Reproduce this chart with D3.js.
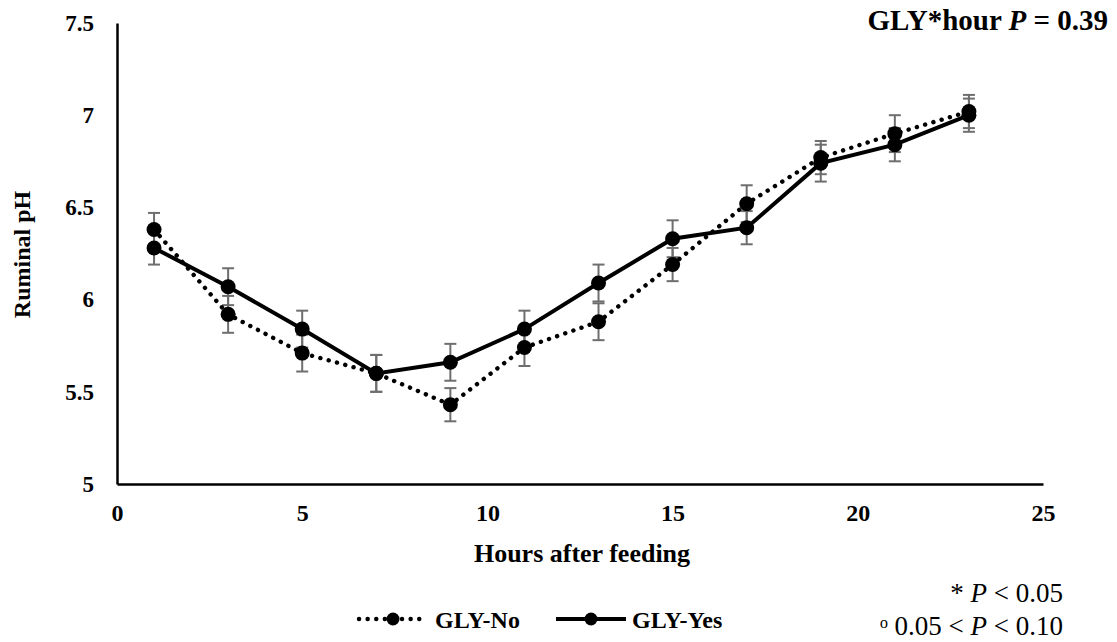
<!DOCTYPE html>
<html>
<head>
<meta charset="utf-8">
<script src="https://cdn.jsdelivr.net/npm/d3@7"></script>
<style>
  body { margin: 0; background: #fff; }
  text { font-family: "Liberation Serif", "Times New Roman", serif; }
</style>
</head>
<body>
<svg id="chart" width="1117" height="642"></svg>
<script>
'use strict';

// hours after feeding
const hours = [1, 3, 5, 7, 9, 11, 13, 15, 17, 19, 21, 23];
// ruminal pH, GLY-No (dotted) and GLY-Yes (solid)
const glyNo = [6.38, 5.92, 5.71, 5.60, 5.43, 5.74, 5.88, 6.19, 6.52, 6.77, 6.90, 7.02];
const glyYes = [6.28, 6.07, 5.84, 5.60, 5.66, 5.84, 6.09, 6.33, 6.39, 6.74, 6.84, 7.00];
// standard errors
const glyNoSe = [0.09, 0.10, 0.10, 0.10, 0.09, 0.10, 0.10, 0.09, 0.10, 0.09, 0.10, 0.09];
const glyYesSe = [0.09, 0.10, 0.10, 0.10, 0.10, 0.10, 0.10, 0.10, 0.09, 0.10, 0.09, 0.09];
const xTicks = [0, 5, 10, 15, 20, 25];
const yTicks = [5, 5.5, 6, 6.5, 7, 7.5];

const svg = d3.select("#chart");

const margin = { top: 23, left: 117, bottom: 158, right: 74 };
const width = 1117 - margin.left - margin.right;
const height = 642 - margin.top - margin.bottom;

const xScale = d3.scaleLinear().domain([0, 25]).range([0, width]);
const yScale = d3.scaleLinear().domain([5, 7.5]).range([height, 0]);

const chart = svg.append("g")
  .attr("transform", `translate(${margin.left}, ${margin.top})`);

const xAxis = d3.axisBottom(xScale).tickValues(xTicks).tickSize(0).tickPadding(20)
  .tickFormat(d3.format("d"));
const yAxis = d3.axisLeft(yScale).tickValues(yTicks).tickSize(0).tickPadding(23)
  .tickFormat(d => d);

const gx = chart.append("g")
  .attr("transform", `translate(0, ${height})`)
  .call(xAxis);
const gy = chart.append("g").call(yAxis);

[gx, gy].forEach(g => {
  g.attr("font-family", null);
  g.select(".domain").attr("stroke", "#000").attr("stroke-width", 2.5);
  g.selectAll("text")
    .attr("fill", "#000")
    .style("font-weight", "bold")
    .style("font-family", "'Liberation Serif', serif");
});
gx.selectAll("text").style("font-size", "24px");
gy.selectAll("text").style("font-size", "23px");

// axis titles
chart.append("text")
  .text("Hours after feeding")
  .attr("x", width / 2 + 2)
  .attr("y", height + 78)
  .attr("text-anchor", "middle")
  .style("font-size", "26px")
  .style("font-weight", "bold");

chart.append("text")
  .text("Ruminal pH")
  .attr("transform", `translate(${-87}, ${height / 2 + 1}) rotate(-90)`)
  .attr("text-anchor", "middle")
  .style("font-size", "24px")
  .style("font-weight", "bold");

const series = [
  { name: "GLY-No", values: glyNo, se: glyNoSe, dotted: true },
  { name: "GLY-Yes", values: glyYes, se: glyYesSe, dotted: false }
];

const line = d3.line()
  .x((d, i) => xScale(hours[i]))
  .y(d => yScale(d));

// error bars
series.forEach(s => {
  const eb = chart.append("g").attr("stroke", "#6e6e6e").attr("stroke-width", 2);
  s.values.forEach((v, i) => {
    const x = xScale(hours[i]);
    const y1 = yScale(v - s.se[i]);
    const y2 = yScale(v + s.se[i]);
    eb.append("line").attr("x1", x).attr("x2", x).attr("y1", y1).attr("y2", y2);
    eb.append("line").attr("x1", x - 6).attr("x2", x + 6).attr("y1", y1).attr("y2", y1);
    eb.append("line").attr("x1", x - 6).attr("x2", x + 6).attr("y1", y2).attr("y2", y2);
  });
});

function styleLine(sel, dotted) {
  if (dotted) {
    sel.attr("stroke-width", 4.4)
      .attr("stroke-dasharray", "0.1 8.5")
      .attr("stroke-linecap", "round");
  } else {
    sel.attr("stroke-width", 4);
  }
  return sel;
}

series.forEach(s => {
  styleLine(chart.append("path")
    .datum(s.values)
    .attr("d", line)
    .attr("fill", "none")
    .attr("stroke", "#000"), s.dotted);

  chart.append("g").selectAll("circle")
    .data(s.values)
    .join("circle")
    .attr("cx", (d, i) => xScale(hours[i]))
    .attr("cy", d => yScale(d))
    .attr("r", 7.5)
    .attr("fill", "#000");
});

// legend
const legendY = 619;
const legendItems = [
  { s: series[0], x1: 359, x2: 427, label: 435 },
  { s: series[1], x1: 556, x2: 626, label: 632 }
];
legendItems.forEach(li => {
  styleLine(svg.append("line")
    .attr("x1", li.x1).attr("x2", li.x2)
    .attr("y1", legendY).attr("y2", legendY)
    .attr("stroke", "#000"), li.s.dotted);
  svg.append("circle")
    .attr("cx", (li.x1 + li.x2) / 2)
    .attr("cy", legendY)
    .attr("r", 6.5)
    .attr("fill", "#000");
  svg.append("text")
    .text(li.s.name)
    .attr("x", li.label)
    .attr("y", legendY + 9)
    .style("font-size", "24px")
    .style("font-weight", "bold");
});

// annotations
const ann = svg.append("text")
  .attr("x", 1108)
  .attr("y", 30)
  .attr("text-anchor", "end")
  .style("font-size", "29px")
  .style("font-weight", "bold");
ann.append("tspan").text("GLY*hour ");
ann.append("tspan").text("P").style("font-style", "italic");
ann.append("tspan").text(" = 0.39");

const sig1 = svg.append("text")
  .attr("x", 1063).attr("y", 602)
  .attr("text-anchor", "end")
  .style("font-size", "27px");
sig1.append("tspan").text("* ");
sig1.append("tspan").text("P").style("font-style", "italic");
sig1.append("tspan").text(" < 0.05");

const sig2 = svg.append("text")
  .attr("x", 1063).attr("y", 635)
  .attr("text-anchor", "end")
  .style("font-size", "27px");
sig2.append("tspan").text("ᵒ 0.05 < ");
sig2.append("tspan").text("P").style("font-style", "italic");
sig2.append("tspan").text(" < 0.10");
</script>
</body>
</html>
